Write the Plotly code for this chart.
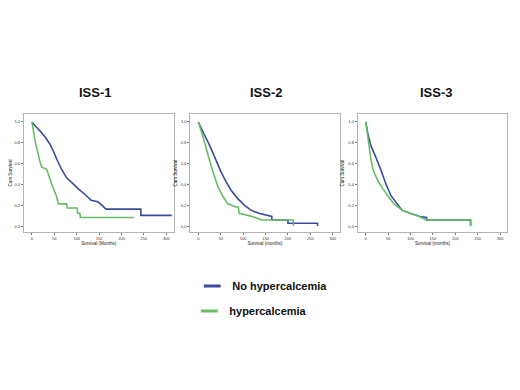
import plotly.graph_objects as go

# ---------------- data ----------------
titles = ["ISS-1", "ISS-2", "ISS-3"]
x_titles = ["Survival (Months)", "Survival (months)", "Survival (months)"]
y_title = "Cum Survival"
series_names = ["No hypercalcemia", "hypercalcemia"]

y_tick_vals = [0.0, 0.2, 0.4, 0.6, 0.8, 1.0]
y_tick_text = ["0,0", "0,2", "0,4", "0,6", "0,8", "1,0"]
x_tick_vals = [0, 50, 100, 150, 200, 250, 300]
x_tick_text = ["0", "50", "100", "150", "200", "250", "300"]

# ISS-1  (months, cumulative survival)
iss1_no_t = [0, 9, 18, 29, 40, 48, 55, 66, 77, 92, 103, 121, 132, 147, 158, 165, 243, 243, 312]
iss1_no_s = [1.0, 0.955, 0.915, 0.86, 0.79, 0.72, 0.65, 0.55, 0.47, 0.41, 0.365, 0.30, 0.255,
             0.24, 0.20, 0.17, 0.17, 0.11, 0.11]
iss1_hy_t = [0, 7, 18, 22, 33, 40, 48, 55, 59, 77, 79, 101, 102, 107, 108, 228]
iss1_hy_s = [1.0, 0.82, 0.62, 0.57, 0.55, 0.46, 0.365, 0.29, 0.22, 0.22, 0.18, 0.18, 0.13,
             0.13, 0.09, 0.09]

# ISS-2
iss2_no_t = [0, 11, 26, 40, 51, 62, 73, 88, 102, 117, 135, 164, 164, 200, 200, 266, 266]
iss2_no_s = [1.0, 0.90, 0.77, 0.63, 0.52, 0.43, 0.35, 0.27, 0.21, 0.16, 0.13, 0.10, 0.066,
             0.066, 0.035, 0.035, 0.01]
iss2_hy_t = [0, 11, 22, 33, 44, 55, 66, 84, 89, 91, 120, 142, 212, 212]
iss2_hy_s = [1.0, 0.85, 0.68, 0.52, 0.38, 0.29, 0.22, 0.19, 0.19, 0.13, 0.10, 0.066, 0.066, 0.01]

# ISS-3
iss3_no_t = [0, 5, 12, 23, 34, 45, 56, 70, 81, 99, 121, 136, 136, 234, 234]
iss3_no_s = [1.0, 0.88, 0.77, 0.66, 0.54, 0.41, 0.30, 0.22, 0.16, 0.13, 0.10, 0.09, 0.066,
             0.066, 0.01]
iss3_hy_t = [0, 5, 11, 16, 27, 38, 49, 63, 81, 99, 114, 136, 234, 234]
iss3_hy_s = [1.0, 0.85, 0.66, 0.55, 0.44, 0.365, 0.30, 0.22, 0.16, 0.13, 0.11, 0.066, 0.066, 0.01]

panels = [
    (iss1_no_t, iss1_no_s, iss1_hy_t, iss1_hy_s),
    (iss2_no_t, iss2_no_s, iss2_hy_t, iss2_hy_s),
    (iss3_no_t, iss3_no_s, iss3_hy_t, iss3_hy_s),
]

# ---------------- styling ----------------
W, H = 520, 390
OFF = 8  # page body margin of the exported html
BLUE = "#3a4c9c"
GREEN = "#66bd63"
BORDER = "#b4b4b4"
FONT = "Liberation Sans, Arial, sans-serif"

box_left = [16, 185, 355]
box_w = 152
box_top, box_bottom = 114, 232


def px_x(p):
    return (p - OFF) / W


def px_y(p):
    return 1 - (p - OFF) / H


fig = go.Figure()
layout_axes = {}
for i, (nt, ns, ht, hs) in enumerate(panels):
    k = "" if i == 0 else str(i + 1)
    fig.add_trace(go.Scatter(x=nt, y=ns, mode="lines", line=dict(color=BLUE, width=1.6, simplify=False),
                             xaxis="x" + k, yaxis="y" + k, showlegend=False, hoverinfo="skip"))
    fig.add_trace(go.Scatter(x=ht, y=hs, mode="lines", line=dict(color=GREEN, width=1.6, simplify=False),
                             xaxis="x" + k, yaxis="y" + k, showlegend=False, hoverinfo="skip"))
    layout_axes["xaxis" + k] = dict(
        domain=[px_x(box_left[i]), px_x(box_left[i] + box_w)], range=[-18, 316], anchor="y" + k,
        tickvals=x_tick_vals, ticktext=x_tick_text, ticks="outside", ticklen=2, tickwidth=0.6,
        tickcolor="#777", tickfont=dict(size=4, color="#333", family=FONT),
        showgrid=False, zeroline=False, showline=True, linecolor=BORDER, linewidth=1, mirror=True,
        title=dict(text=x_titles[i], font=dict(size=4.5, color="#222", family=FONT), standoff=2),
    )
    layout_axes["yaxis" + k] = dict(
        domain=[px_y(box_bottom), px_y(box_top)], range=[-0.048, 1.076], anchor="x" + k,
        tickvals=y_tick_vals, ticktext=y_tick_text, ticks="outside", ticklen=2, tickwidth=0.6,
        tickcolor="#777", tickfont=dict(size=4, color="#333", family=FONT),
        showgrid=False, zeroline=False, showline=True, linecolor=BORDER, linewidth=1, mirror=True,
        title=dict(text=y_title, font=dict(size=4.5, color="#222", family=FONT), standoff=3),
    )

# legend entries (legend-only traces with short line swatches)
fig.add_trace(go.Scatter(x=[None], y=[None], mode="markers", name="<b>" + series_names[0] + "</b>",
                         marker=dict(symbol="line-ew-open", size=12, color=BLUE,
                                     line=dict(color=BLUE, width=3)),
                         legend="legend"))
fig.add_trace(go.Scatter(x=[None], y=[None], mode="markers", name="<b>" + series_names[1] + "</b>",
                         marker=dict(symbol="line-ew-open", size=12, color=GREEN,
                                     line=dict(color=GREEN, width=3)),
                         legend="legend2"))

title_x = [89, 262, 435]
annotations = []
for i, t in enumerate(titles):
    annotations.append(dict(text="<b>" + t + "</b>", x=px_x(title_x[i]), y=px_y(92),
                            xref="paper", yref="paper", xanchor="center", yanchor="middle",
                            showarrow=False, font=dict(size=13, color="#111", family=FONT)))

leg_font = dict(size=11, color="#111", family=FONT)
fig.update_layout(
    width=W, height=H, margin=dict(l=0, r=0, t=0, b=0),
    paper_bgcolor="white", plot_bgcolor="white",
    annotations=annotations,
    legend=dict(x=px_x(187), y=px_y(286), xanchor="left", yanchor="middle",
                font=leg_font, bgcolor="rgba(0,0,0,0)", itemwidth=30),
    legend2=dict(x=px_x(184), y=px_y(311), xanchor="left", yanchor="middle",
                 font=leg_font, bgcolor="rgba(0,0,0,0)", itemwidth=30),
    **layout_axes,
)

fig.write_html("out.html")
